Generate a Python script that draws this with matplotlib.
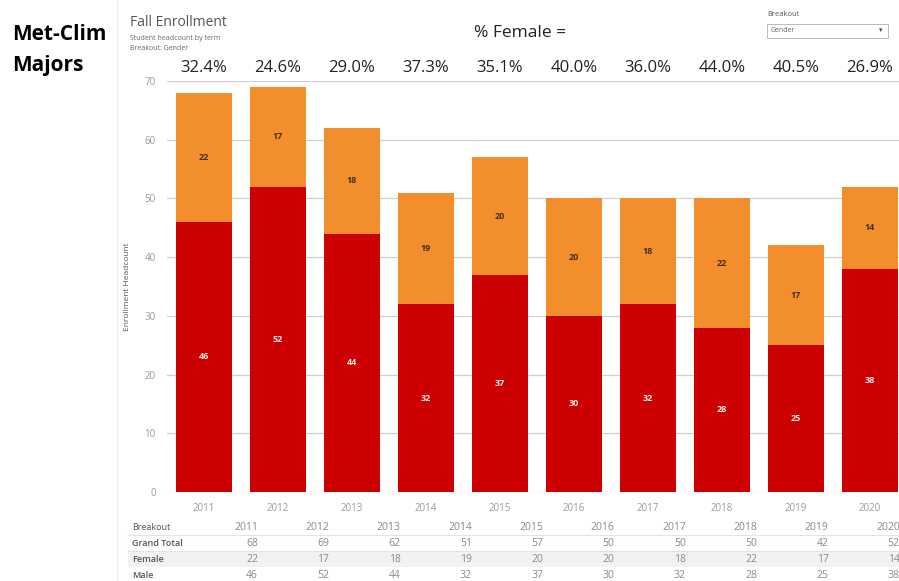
import matplotlib.pyplot as plt
import numpy as np

years = ['2011', '2012', '2013', '2014', '2015', '2016', '2017', '2018', '2019', '2020']
female = [22, 17, 18, 19, 20, 20, 18, 22, 17, 14]
male = [46, 52, 44, 32, 37, 30, 32, 28, 25, 38]
y_ticks = [0, 10, 20, 30, 40, 50, 60, 70]

total = [m + f for m, f in zip(male, female)]
pct = [100.0 * f / t for f, t in zip(female, total)]

W, H = 899, 581
fig = plt.figure(figsize=(W / 100, H / 100), dpi=100)
plt.rcParams['font.family'] = ['Open Sans', 'DejaVu Sans']

orange = '#F28E2B'
red = '#CC0000'
grey = '#9a9a9a'

# main axes in pixel coords
left, right, top, bottom = 167, 899, 81, 492
ax = fig.add_axes([left / W, 1 - bottom / H, (right - left) / W, (bottom - top) / H])
x = np.arange(len(years))
ax.bar(x, male, width=0.75, color=red, zorder=3)
ax.bar(x, female, width=0.75, bottom=male, color=orange, zorder=3)
for i in range(len(years)):
    ax.text(x[i], male[i] / 2, str(male[i]), ha='center', va='center',
            color='#ffe8e8', fontsize=6.5, fontweight='bold', zorder=4)
    ax.text(x[i], male[i] + female[i] / 2, str(female[i]), ha='center', va='center',
            color='#4a3020', fontsize=6.5, fontweight='bold', zorder=4)
    ax.text(x[i], 72.2, '%.1f%%' % pct[i], ha='center', va='center',
            color='#222222', fontsize=12, clip_on=False)

ax.set_xlim(-0.5, -0.5 + (right - left) / 74.0)
ax.set_ylim(0, 70)
ax.set_yticks(y_ticks)
for t in y_ticks:
    ax.axhline(t, color='#d0d0d0', lw=0.9, zorder=1)
ax.set_xticks(x)
ax.set_xticklabels(years)
ax.tick_params(axis='both', length=0, labelsize=7, labelcolor=grey, pad=8)
for s in ax.spines.values():
    s.set_visible(False)
ax.set_ylabel('Enrollment Headcount', fontsize=6, color='#555555', labelpad=10)

# headings
fig.text(12 / W, 1 - 35 / H, 'Met-Clim', fontsize=15, fontweight='bold', va='center')
fig.text(12 / W, 1 - 65 / H, 'Majors', fontsize=15, fontweight='bold', va='center')
fig.add_artist(plt.Line2D([117 / W, 117 / W], [0, 1], color='#eeeeee', lw=0.8))
fig.text(130 / W, 1 - 22 / H, 'Fall Enrollment', fontsize=10, color='#555555', va='center')
fig.text(130 / W, 1 - 39 / H, 'Student headcount by term', fontsize=5, color='#666666', va='center')
fig.text(130 / W, 1 - 48 / H, 'Breakout: Gender', fontsize=5, color='#666666', va='center')
fig.text(520 / W, 1 - 33 / H, '% Female =', fontsize=12.5, color='#222222', ha='center', va='center')

# breakout dropdown
fig.text(767 / W, 1 - 15 / H, 'Breakout', fontsize=5.5, color='#555555', va='center')
fig.add_artist(plt.Rectangle((767 / W, 1 - 38 / H), 121 / W, 14 / H, fill=False,
                             edgecolor='#bbbbbb', lw=0.7))
fig.text(771 / W, 1 - 31 / H, 'Gender', fontsize=5, color='#666666', va='center')
fig.text(881 / W, 1 - 31 / H, '\u25be', fontsize=5, color='#444444', ha='center', va='center')

# table
row_names = ['Breakout', 'Grand Total', 'Female', 'Male']
row_y = [527, 543, 559, 575]
rows = [years, [str(v) for v in total], [str(v) for v in female], [str(v) for v in male]]
fig.add_artist(plt.Rectangle((128 / W, 1 - 567 / H), (W - 128) / W, 16 / H,
                             color='#f2f2f2', lw=0, zorder=0))
for yy in [535, 551]:
    fig.add_artist(plt.Line2D([128 / W, 1], [1 - yy / H, 1 - yy / H], color='#e4e4e4', lw=0.8))
for r in range(4):
    fig.text(132 / W, 1 - row_y[r] / H, row_names[r], fontsize=6.5,
             color='#555555', fontweight='semibold' if r > 0 else 'normal', va='center')
    for c in range(len(years)):
        fig.text((258 + c * 71.3) / W, 1 - row_y[r] / H, rows[r][c], fontsize=7.5,
                 color='#8a8a8a', ha='right', va='center')

fig.savefig('out.png', dpi=100)
